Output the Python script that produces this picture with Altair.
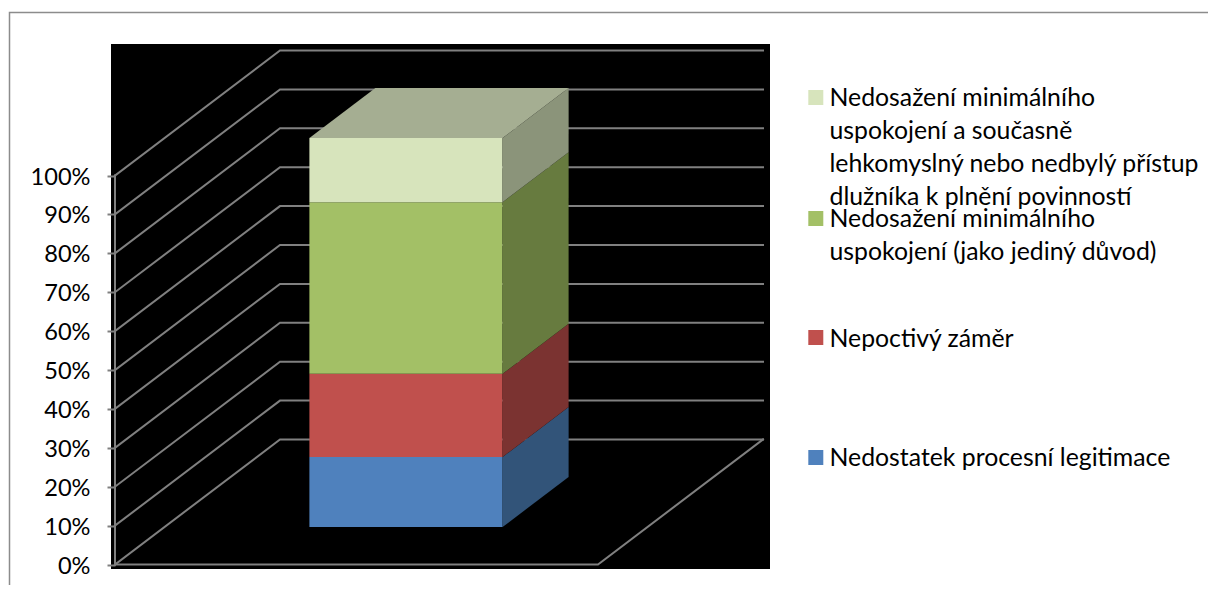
import altair as alt
import pandas as pd

# ---- values ----
series = [
    "Nedostatek procesní legitimace",
    "Nepoctivý záměr",
    "Nedosažení minimálního uspokojení (jako jediný důvod)",
    "Nedosažení minimálního uspokojení a současně lehkomyslný nebo nedbylý přístup dlužníka k plnění povinností",
]
values = [18.0, 21.4, 44.1, 16.5]
front_colors = ["#4f81bd", "#c0504d", "#a3c066", "#d7e4bc"]
side_colors = ["#325479", "#7b3331", "#677b3f", "#8b947a"]
top_color = "#a5ae92"
grid_ticks = list(range(0, 101, 10))
legend_lines = [
    [["Nedosažení minimálního", "uspokojení a současně", "lehkomyslný nebo nedbylý přístup", "dlužníka k plnění povinností"], 3],
    [["Nedosažení minimálního", "uspokojení (jako jediný důvod)"], 2],
    [["Nepoctivý záměr"], 1],
    [["Nedostatek procesní legitimace"], 0],
]

# ---- oblique projection of the 3-D chart box (layout) ----
W, H = 1200, 577
PX_U = 483.0          # px per category width
PX_P = 3.89           # px per percent
X0, Y0 = 115.0, 564.5 # page position of the front-left origin
DX_U = 165.0 / PX_U   # depth shift in u per unit depth
DY_P = 125.0 / PX_P   # depth shift in percent per unit depth
GREY = "#808080"


def u_of(px):
    return (px - X0) / PX_U


def p_of(py):
    return (Y0 - py) / PX_P


def proj(u, p, d):
    return u + d * DX_U, p + d * DY_P


xs = alt.Scale(domain=[u_of(8), u_of(8 + W)], nice=False, zero=False)
ys = alt.Scale(domain=[p_of(8 + H), p_of(8)], nice=False, zero=False)
X = alt.X("x:Q", scale=xs, axis=None)
X2 = alt.X2("x2:Q")
Y2 = alt.Y2("y2:Q")
value_axis = alt.Axis(
    values=grid_ticks,
    labelExpr="datum.value + '%'",
    title=None,
    domain=False,
    grid=False,
    offset=-(X0 - 8),
    tickSize=8,
    tickColor=GREY,
    tickWidth=2,
    labelPadding=17,
    labelFont="Lato",
    labelFontSize=23.6,
    labelOffset=1.5,
    labelColor="#000000",
    zindex=1,
)
Y_plain = alt.Y("y:Q", scale=ys, axis=value_axis)

# ---- black plot background ----
bg = pd.DataFrame([{"x": u_of(111), "x2": u_of(770), "y": p_of(569), "y2": p_of(44)}])
background = alt.Chart(bg).mark_rect(color="black").encode(x=X, x2=X2, y=Y_plain, y2=Y2)

# ---- grid lines ----
rows = []
for t in grid_ticks:
    for k, (u, d) in enumerate([(0, 0), (0, 1), (1, 1)]):
        x, y = proj(u, t, d)
        rows.append({"x": x, "y": y, "g": f"g{t}", "k": k})
for k, (u, d) in enumerate([(0, 0), (1, 0), (1, 1)]):
    x, y = proj(u, 0, d)
    rows.append({"x": x, "y": y, "g": "floor", "k": k})
rows += [{"x": 0, "y": 0, "g": "axis", "k": 0}, {"x": 0, "y": 100, "g": "axis", "k": 1}]
grid = alt.Chart(pd.DataFrame(rows)).mark_line(color=GREY, strokeWidth=2, strokeCap="square").encode(
    x=X, y=Y_plain, detail="g:N", order="k:Q"
)

# ---- outer frame of the slide ----
frame_df = pd.DataFrame(
    [
        {"x": u_of(9.5), "y": p_of(8 + H), "k": 0},
        {"x": u_of(9.5), "y": p_of(12.5), "k": 1},
        {"x": u_of(8 + W), "y": p_of(12.5), "k": 2},
    ]
)
frame = alt.Chart(frame_df).mark_line(color="#8c8c8c", strokeWidth=1.5).encode(x=X, y=Y_plain, order="k:Q")

# ---- the stacked box ----
U0, U1, D0, D1 = 0.3, 0.7, 0.3, 0.7
face_rows = []
names, cols = [], []
base = 0.0


def add_face(name, col, pts):
    names.append(name)
    cols.append(col)
    for x, y, y2 in pts:
        face_rows.append({"x": x, "y": y, "y2": y2, "face": name})


for i, v in enumerate(values):
    top = base + v
    xa, lo = proj(U0, base, D0)
    xb, _ = proj(U1, base, D0)
    _, hi = proj(U0, top, D0)
    add_face(f"front{i}", front_colors[i], [(xa, lo, hi), (xb, lo, hi)])
    xc, lo2 = proj(U1, base, D1)
    _, hi2 = proj(U1, top, D1)
    add_face(f"side{i}", side_colors[i], [(xb, lo, hi), (xc, lo2, hi2)])
    base = top

tf = proj(U0, base, D0)[1]
tb = proj(U0, base, D1)[1]
add_face(
    "top",
    top_color,
    [
        (proj(U0, 0, D0)[0], tf, tf),
        (proj(U0, 0, D1)[0], tf, tb),
        (proj(U1, 0, D0)[0], tf, tb),
        (proj(U1, 0, D1)[0], tb, tb),
    ],
)
color = alt.Color("face:N", scale=alt.Scale(domain=names, range=cols), legend=None)
box = alt.Chart(pd.DataFrame(face_rows)).mark_area(interpolate="linear", opacity=1).encode(
    x=X, y=Y_plain, y2=Y2, detail="face:N", color=color
)

# ---- legend ----
SWATCH_MID = [97.5, 218.5, 337.5, 457.5]
BASELINES = [[106, 139, 172, 204.5], [226.5, 259.5], [347], [466]]
sw_rows, tx_rows = [], []
for (lines, idx), sy, bl in zip(legend_lines, SWATCH_MID, BASELINES):
    sw_rows.append({"x": u_of(815.8), "y": p_of(sy), "face": f"front{idx}"})
    for line, b in zip(lines, bl):
        tx_rows.append({"x": u_of(829.5), "y": p_of(b), "t": line})
swatches = alt.Chart(pd.DataFrame(sw_rows)).mark_square(size=225, opacity=1).encode(
    x=X, y=Y_plain, color=color
)
texts = alt.Chart(pd.DataFrame(tx_rows)).mark_text(
    align="left", baseline="alphabetic", font="Lato", fontSize=24.8, color="#000000"
).encode(x=X, y=Y_plain, text="t:N")

chart = (
    alt.layer(frame, background, grid, box, swatches, texts)
    .properties(width=W, height=H, padding=0, autosize=alt.AutoSizeParams(type="none"), background="white")
    .configure_view(stroke=None)
)
chart.save("out.html", embed_options={"renderer": "svg", "actions": False})
